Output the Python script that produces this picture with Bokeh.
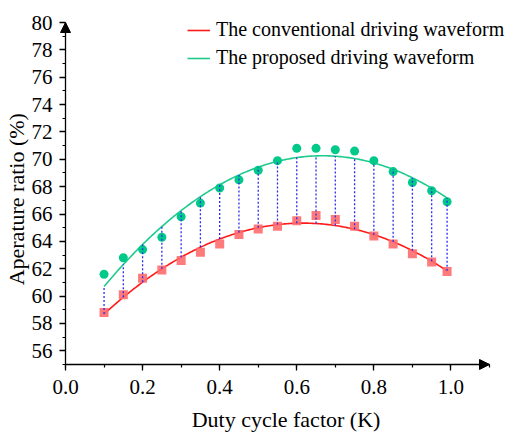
import numpy as np
from bokeh.plotting import figure
from bokeh.models import (Range1d, SingleIntervalTicker, PrintfTickFormatter, Legend, LegendItem,
                          Arrow, NormalHead)
from bokeh.embed import file_html
from bokeh.resources import INLINE

# ---- data ----
duty_k = [0.10, 0.15, 0.20, 0.25, 0.30, 0.35, 0.40, 0.45, 0.50, 0.55,
          0.60, 0.65, 0.70, 0.75, 0.80, 0.85, 0.90, 0.95, 0.99]
conventional = [58.8, 60.1, 61.3, 61.9, 62.6, 63.2, 63.8, 64.5, 64.9, 65.1,
                65.5, 65.9, 65.6, 65.1, 64.4, 63.8, 63.1, 62.5, 61.8]
proposed = [61.6, 62.8, 63.4, 64.3, 65.8, 66.8, 67.9, 68.5, 69.2, 69.9,
            70.8, 70.8, 70.7, 70.6, 69.9, 69.1, 68.3, 67.7, 66.9]
legend_labels = ["The conventional driving waveform", "The proposed driving waveform"]
x_axis_span = [0.0, 1.1]
y_axis_span = [55.0, 80.0]

FONT = "Liberation Serif"
RED_LINE = "#ff1a1a"
RED_PT = "#ff6b6b"
GREEN_LINE = "#1ecb8c"
GREEN_PT = "#00c98a"

k = np.array(duty_k)
c_fit = np.polyfit(k, conventional, 2)
p_fit = np.polyfit(k, proposed, 2)
kk = np.linspace(k.min(), k.max(), 200)

p = figure(frame_width=453, frame_height=348, output_backend="svg", toolbar_location=None,
           x_range=Range1d(-0.01558, 1.1597), y_range=Range1d(54.56, 80),
           min_border_left=54, min_border_top=22, min_border_right=0, min_border_bottom=62)
p.outline_line_color = None
p.xgrid.visible = False
p.ygrid.visible = False

xa = p.xaxis[0]
ya = p.yaxis[0]
for ax in (xa, ya):
    ax.major_label_text_font = FONT
    ax.major_label_text_font_size = "21px"
    ax.major_label_text_color = "black"
    ax.axis_label_text_font = FONT
    ax.axis_label_text_font_size = "22px"
    ax.axis_label_text_font_style = "normal"
    ax.axis_label_text_color = "black"
    ax.axis_line_color = None
    ax.major_tick_line_color = "black"
    ax.minor_tick_line_color = "black"
    ax.major_tick_line_width = 1.3
    ax.minor_tick_line_width = 1.2
    # the drawn axis line sits 6px inside the frame edge
    ax.major_tick_out = 0
    ax.major_tick_in = 6
    ax.minor_tick_out = -3
    ax.minor_tick_in = 6

xa.ticker = SingleIntervalTicker(interval=0.2, num_minor_ticks=2)
xa.formatter = PrintfTickFormatter(format="%.1f")
ya.ticker = SingleIntervalTicker(interval=2, num_minor_ticks=2)
xa.axis_label = "Duty cycle factor (K)"
ya.axis_label = "Aperature  ratio (%)"
xa.major_label_standoff = 9
ya.major_label_standoff = 7
xa.axis_label_standoff = 10
ya.axis_label_standoff = 0
xa.bounds = (0, 1.1)
ya.bounds = (55, 80)

# axis lines
p.line(x_axis_span, [y_axis_span[0]] * 2, line_color="black", line_width=1.3)
p.line([x_axis_span[0]] * 2, y_axis_span, line_color="black", line_width=1.3)

# fitted curves
r1 = p.line(kk, np.polyval(c_fit, kk), line_color=RED_LINE, line_width=1.6)
r2 = p.line(kk, np.polyval(p_fit, kk), line_color=GREEN_LINE, line_width=1.6)

# data points
p.scatter(duty_k, conventional, marker="square", size=9, fill_color=RED_PT, fill_alpha=0.9,
          line_color=None)
p.scatter(duty_k, proposed, marker="circle", size=9, fill_color=GREEN_PT, line_color=None)

# vertical dotted connectors between the fits
p.segment(x0=duty_k, y0=np.polyval(c_fit, k), x1=duty_k, y1=np.polyval(p_fit, k),
          line_color="#2b2bf0", line_width=1.3, line_dash="2 2")

# axis arrows
p.add_layout(Arrow(end=NormalHead(size=10, fill_color="black", line_color="black", line_width=1),
                   x_start=x_axis_span[0], y_start=y_axis_span[1] - 1,
                   x_end=x_axis_span[0], y_end=y_axis_span[1], line_alpha=0))
p.add_layout(Arrow(end=NormalHead(size=10, fill_color="black", line_color="black", line_width=1),
                   x_start=x_axis_span[1] - 0.01, y_start=y_axis_span[0],
                   x_end=x_axis_span[1], y_end=y_axis_span[0], line_alpha=0))

legend = Legend(items=[LegendItem(label=legend_labels[0], renderers=[r1]),
                       LegendItem(label=legend_labels[1], renderers=[r2])],
                location=(128, 301))
legend.label_text_font = FONT
legend.label_text_font_size = "20px"
legend.label_text_color = "black"
legend.border_line_color = None
legend.background_fill_alpha = 0
legend.glyph_width = 23
legend.glyph_height = 20
legend.label_height = 20
legend.label_standoff = 6
legend.spacing = 5
legend.padding = 0
legend.margin = 0
p.add_layout(legend)

open("out.html", "w").write(file_html(p, INLINE))
